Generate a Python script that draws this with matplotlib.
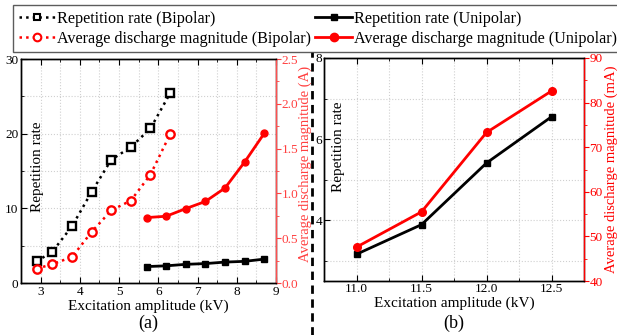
import matplotlib
matplotlib.use('Agg')
import matplotlib.pyplot as plt
from matplotlib.lines import Line2D
from matplotlib.ticker import MultipleLocator

plt.rcParams['font.family'] = 'serif'
plt.rcParams['font.serif'] = ['Liberation Serif', 'DejaVu Serif']
plt.rcParams['font.size'] = 11
plt.rcParams['xtick.labelsize'] = 9.5
plt.rcParams['ytick.labelsize'] = 9.5
plt.rcParams['axes.linewidth'] = 1.0

# (a) bipolar / unipolar sweep
bip_kv = [2.9, 3.3, 3.8, 4.3, 4.8, 5.3, 5.8, 6.3]
bip_rate = [2.9, 4.2, 7.6, 12.2, 16.5, 18.2, 20.7, 25.4]
bip_mag = [0.16, 0.21, 0.29, 0.57, 0.81, 0.92, 1.21, 1.66]

uni_kv = [5.7, 6.2, 6.7, 7.2, 7.7, 8.2, 8.7]
uni_rate = [2.2, 2.3, 2.5, 2.6, 2.8, 2.9, 3.2]
uni_mag = [0.73, 0.745, 0.83, 0.91, 1.06, 1.35, 1.67]

# (b) unipolar, higher amplitude
b_kv = [11.0, 11.5, 12.0, 12.5]
b_rate = [3.16, 3.89, 5.41, 6.55]
b_mag = [47.6, 55.5, 73.3, 82.6]

RED = '#ff0000'
GRID = dict(color='#d0d0d0', linestyle=':', linewidth=0.8)

fig = plt.figure(figsize=(6.17, 3.35), dpi=100)

# ---------- panel (a) ----------
ax1 = fig.add_axes([21/617, 52/335, 255/617, 224/335])
ax1.plot(bip_kv, bip_rate, ls=':', lw=1.8, color='k', marker='s', ms=6.3,
         mfc='white', mec='k', mew=1.7)
ax1.plot(uni_kv, uni_rate, ls='-', lw=2, color='k', marker='s', ms=4)
ax1.set_xlim(2.5, 9)
ax1.set_ylim(0, 30)
ax1.xaxis.set_major_locator(MultipleLocator(1))
ax1.xaxis.set_minor_locator(MultipleLocator(0.5))
ax1.yaxis.set_major_locator(MultipleLocator(10))
ax1.yaxis.set_minor_locator(MultipleLocator(5))
ax1.grid(True, which='both', **GRID)
ax1.tick_params(which='both', direction='in', top=True, right=False, pad=2)
ax1.tick_params(which='major', length=4)
ax1.tick_params(which='minor', length=2.5)
ax1.set_xlabel('Excitation amplitude (kV)', labelpad=1)
ax1.set_ylabel('Repetition rate')
ax1.yaxis.set_label_coords(0.09, 0.52)

ax1r = ax1.twinx()
ax1r.plot(bip_kv, bip_mag, ls=':', lw=1.8, color=RED, marker='o', ms=6,
          mfc='white', mec=RED, mew=1.7)
ax1r.plot(uni_kv, uni_mag, ls='-', lw=2, color=RED, marker='o', ms=5)
ax1r.set_ylim(0, 2.5)
ax1r.yaxis.set_major_locator(MultipleLocator(0.5))
ax1r.yaxis.set_minor_locator(MultipleLocator(0.25))
ax1r.yaxis.set_major_formatter(lambda v, p: f'{v:.1f}')
ax1r.spines['right'].set_color('#ff5050')
ax1r.tick_params(which='both', direction='out', colors='#ff4040', pad=0.5)
ax1r.tick_params(which='major', length=3.5)
ax1r.tick_params(which='minor', length=2.5)
ax1r.set_ylabel('Average discharge magnitude (A)', color='#ff4040', fontsize=10.5)
ax1r.yaxis.set_label_coords(1.09, 0.53)

# ---------- panel (b) ----------
ax2 = fig.add_axes([324/617, 54/335, 260/617, 223/335])
ax2.plot(b_kv, b_rate, ls='-', lw=2, color='k', marker='s', ms=5)
ax2.set_xlim(10.75, 12.75)
ax2.set_ylim(2.5, 8)
ax2.xaxis.set_major_locator(MultipleLocator(0.5))
ax2.xaxis.set_minor_locator(MultipleLocator(0.25))
ax2.xaxis.set_major_formatter(lambda v, p: f'{v:.1f}')
ax2.yaxis.set_major_locator(MultipleLocator(2))
ax2.yaxis.set_minor_locator(MultipleLocator(1))
ax2.grid(True, which='both', **GRID)
ax2.tick_params(which='both', direction='in', top=True, right=False, pad=1.5)
ax2.tick_params(which='major', length=4)
ax2.tick_params(which='minor', length=2.5)
ax2.set_xlabel('Excitation amplitude (kV)', labelpad=1)
ax2.set_ylabel('Repetition rate')
ax2.yaxis.set_label_coords(0.08, 0.6)

ax2r = ax2.twinx()
ax2r.plot(b_kv, b_mag, ls='-', lw=2, color=RED, marker='o', ms=5.5)
ax2r.set_ylim(40, 90)
ax2r.yaxis.set_major_locator(MultipleLocator(10))
ax2r.yaxis.set_minor_locator(MultipleLocator(5))
ax2r.spines['right'].set_color(RED)
ax2r.tick_params(which='both', direction='out', colors=RED, pad=0.5)
ax2r.tick_params(which='major', length=3.5)
ax2r.tick_params(which='minor', length=2.5)
ax2r.set_ylabel('Average discharge magnitude (mA)', color=RED, fontsize=10.5)
ax2r.yaxis.set_label_coords(1.08, 0.5)

# panel tags
fig.text(148/617, 1 - 323/335, '(a)', ha='center', va='center', fontsize=13)
fig.text(454/617, 1 - 323/335, '(b)', ha='center', va='center', fontsize=13)

# dashed divider
fig.add_artist(Line2D([311.7/617, 311.7/617], [0, 1 - 52/335],
                      transform=fig.transFigure, color='k', lw=2,
                      ls=(0, (3, 2))))

# shared legend
handles = [
    Line2D([], [], ls=':', lw=1.8, color='k', marker='s', ms=5, mfc='white', mew=1.5),
    Line2D([], [], ls=':', lw=1.8, color=RED, marker='o', ms=5.5, mfc='white', mew=1.5),
    Line2D([], [], ls='-', lw=2, color='k', marker='s', ms=5),
    Line2D([], [], ls='-', lw=2, color=RED, marker='o', ms=6),
]
labels = ['Repetition rate (Bipolar)', 'Average discharge magnitude (Bipolar)',
          'Repetition rate (Unipolar)', 'Average discharge magnitude (Unipolar)']
leg = fig.legend(handles, labels, ncol=2, loc='upper left',
                 bbox_to_anchor=(13/617, 1 - 5/335), fontsize=11.6,
                 frameon=True, fancybox=False, edgecolor='#333333',
                 handlelength=2.3, handletextpad=0.1, columnspacing=0.25,
                 labelspacing=0.25, borderpad=0.35, borderaxespad=0)
leg.get_frame().set_linewidth(1.0)

fig.savefig('out.png', dpi=100)
